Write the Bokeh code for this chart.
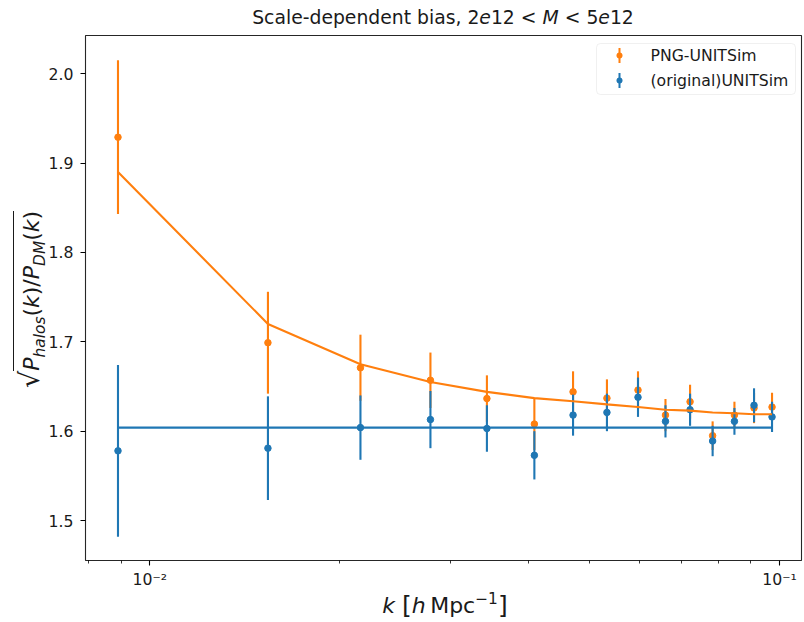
from bokeh.plotting import figure
from bokeh.layouts import column, row
from bokeh.models import (ColumnDataSource, FixedTicker, PrintfTickFormatter, CustomJSTickFormatter,
                          Label, BoxAnnotation, Range1d, Div)
from bokeh.embed import file_html
from bokeh.resources import INLINE

# ---------------- data ----------------
k = [0.0089, 0.0154, 0.0216, 0.0279, 0.0343, 0.0408, 0.0470, 0.0532,
     0.0596, 0.0659, 0.0721, 0.0783, 0.0848, 0.0911, 0.0973]
bias_png = [1.929, 1.699, 1.671, 1.657, 1.6365, 1.608, 1.644, 1.637,
            1.646, 1.618, 1.633, 1.595, 1.618, 1.626, 1.627]
err_png = [0.086, 0.057, 0.037, 0.031, 0.026, 0.029, 0.023, 0.021,
           0.021, 0.018, 0.019, 0.016, 0.015, 0.017, 0.016]
bias_orig = [1.578, 1.581, 1.604, 1.613, 1.603, 1.573, 1.618, 1.621,
             1.638, 1.611, 1.624, 1.589, 1.611, 1.629, 1.616]
err_orig = [0.096, 0.058, 0.036, 0.032, 0.026, 0.027, 0.023, 0.021,
            0.022, 0.018, 0.018, 0.017, 0.015, 0.019, 0.017]
model_png = [1.890, 1.720, 1.675, 1.655, 1.644, 1.637, 1.6335, 1.630,
             1.627, 1.624, 1.623, 1.621, 1.620, 1.619, 1.619]
model_orig = 1.604

series_labels = ["PNG-UNITSim", "(original)UNITSim"]
ytick_vals = [1.5, 1.6, 1.7, 1.8, 1.9, 2.0]
xtick_vals = [0.01, 0.1]
xtick_labels = ["10⁻²", "10⁻¹"]
xminor_vals = [0.008, 0.009, 0.02, 0.03, 0.04, 0.05, 0.06, 0.07, 0.08, 0.09]
X_LIM = (0.007903, 0.10837)
Y_LIM = (1.4553, 2.0428)

TITLE_HTML = "Scale-dependent bias, 2<i>e</i>12 &lt; <i>M</i> &lt; 5<i>e</i>12"
BRACKET = "<span style='font-size:25px;vertical-align:-1px;line-height:0'>{}</span>"
XLABEL_HTML = ("<i>k</i> " + BRACKET.format("[") + "<i>h</i>&thinsp;Mpc"
               "<span style='font-size:15.4px;vertical-align:9px;line-height:0'>&minus;1</span>"
               + BRACKET.format("]"))
SUB = "<span style='font-size:15.4px;vertical-align:-5.5px;line-height:0'><i>{}</i></span>"
YLABEL_HTML = ("<span style='font-size:27px;line-height:0'>&radic;</span>"
               "<span style='border-top:1.2px solid #1a1a1a;padding-top:5px'>"
               "<i>P</i>" + SUB.format("halos") + "(<i>k</i>)/<i>P</i>" + SUB.format("DM") +
               "(<i>k</i>)</span>")

# ---------------- style / layout ----------------
ORANGE = "#ff7f0e"
BLUE = "#1f77b4"
FONT = "DejaVu Sans"
CSS_FONT = "'DejaVu Sans', sans-serif"
TICK_FS = "15.7px"
W, H = 804, 622
TITLE_H = 33
YLAB_W = 45
FRAME_L, FRAME_W, FRAME_H = 85, 716, 526
BORDER_TOP, BORDER_BOTTOM, BORDER_RIGHT = 2, 30, 3
FIG_W = W - YLAB_W
FIG_H = BORDER_TOP + FRAME_H + BORDER_BOTTOM
XLAB_H = H - TITLE_H - FIG_H
FT = TITLE_H + BORDER_TOP           # frame top in page pixels
FB = FT + FRAME_H                   # frame bottom in page pixels
TITLE_BASE = 25
XLAB_BASE = 614
YLAB_START = 388
YLAB_BASE = 40


def sx(cx):
    return cx - FRAME_L


def sy(cy):
    return FB - cy


p = figure(width=FIG_W, height=FIG_H, x_axis_type="log",
           x_range=Range1d(*X_LIM), y_range=Range1d(*Y_LIM),
           output_backend="svg", toolbar_location=None, title=None,
           min_border_left=FRAME_L - YLAB_W, min_border_right=BORDER_RIGHT,
           min_border_top=BORDER_TOP, min_border_bottom=BORDER_BOTTOM, margin=0)
p.background_fill_color = "white"
p.border_fill_color = "white"
p.xgrid.visible = False
p.ygrid.visible = False
p.outline_line_color = "black"
p.outline_line_width = 1.1
p.outline_line_alpha = 0.85

for ax in (p.xaxis[0], p.yaxis[0]):
    ax.axis_line_color = None
    ax.major_tick_in = 0
    ax.major_tick_out = 5
    ax.major_tick_line_width = 1.1
    ax.major_tick_line_color = "black"
    ax.major_label_text_font = FONT
    ax.major_label_text_font_size = TICK_FS
    ax.major_label_text_color = "#1a1a1a"

p.yaxis.ticker = FixedTicker(ticks=ytick_vals)
p.yaxis.formatter = PrintfTickFormatter(format="%.1f")
p.yaxis.minor_tick_line_color = None
p.yaxis.major_label_standoff = 7

p.xaxis.ticker = FixedTicker(ticks=xtick_vals, minor_ticks=xminor_vals)
p.xaxis.formatter = CustomJSTickFormatter(args=dict(vals=xtick_vals, labs=xtick_labels), code="""
for (let i = 0; i < vals.length; i++) {
  if (Math.abs(Math.log10(tick) - Math.log10(vals[i])) < 1e-6) return labs[i];
}
return "";
""")
p.xaxis.minor_tick_in = 0
p.xaxis.minor_tick_out = 3
p.xaxis.minor_tick_line_width = 0.8
p.xaxis.minor_tick_line_color = "black"
p.xaxis.major_label_standoff = 4

# ---------------- data marks ----------------
src_png = ColumnDataSource(dict(k=k, b=bias_png,
                                lo=[b - e for b, e in zip(bias_png, err_png)],
                                hi=[b + e for b, e in zip(bias_png, err_png)]))
src_orig = ColumnDataSource(dict(k=k, b=bias_orig,
                                 lo=[b - e for b, e in zip(bias_orig, err_orig)],
                                 hi=[b + e for b, e in zip(bias_orig, err_orig)]))

p.segment(x0="k", y0="lo", x1="k", y1="hi", source=src_png, line_color=ORANGE, line_width=2.1)
p.scatter("k", "b", source=src_png, size=6.5, fill_color=ORANGE, line_color=ORANGE)
p.segment(x0="k", y0="lo", x1="k", y1="hi", source=src_orig, line_color=BLUE, line_width=2.1)
p.scatter("k", "b", source=src_orig, size=6.5, fill_color=BLUE, line_color=BLUE)
p.line(k, model_png, line_color=ORANGE, line_width=2.1)
p.line([k[0], k[-1]], [model_orig, model_orig], line_color=BLUE, line_width=2.1)


# ---------------- legend (drawn by hand, inside the frame) ----------------
def sbox(l, r, t, b, **kw):
    return BoxAnnotation(left=sx(l), right=sx(r), top=sy(t), bottom=sy(b),
                         left_units="screen", right_units="screen", top_units="screen",
                         bottom_units="screen", **kw)


p.add_layout(sbox(596, 795, 44, 95, fill_color="white", fill_alpha=0.8,
                  line_color="#cccccc", line_width=1, border_radius=4))
for i, (lab, col) in enumerate(zip(series_labels, [ORANGE, BLUE])):
    cy = 56 + 25 * i
    p.add_layout(sbox(618, 620, cy - 7.5, cy + 7.5, fill_color=col, fill_alpha=1, line_color=None))
    p.add_layout(sbox(616, 622, cy - 3, cy + 3, fill_color=col, fill_alpha=1, line_color=None,
                      border_radius=3))
    p.add_layout(Label(x=sx(650), y=sy(cy), x_units="screen", y_units="screen", text=lab,
                       text_font=FONT, text_font_size="15.7px", text_color="#1a1a1a",
                       text_align="left", text_baseline="middle"))


# ---------------- title and axis labels as HTML text around the figure ----------------
def box_html(w, h, inner_style, html):
    return (f"<div style=\"position:relative;width:{w}px;height:{h}px;overflow:visible;"
            f"font-family:{CSS_FONT};color:#1a1a1a\">"
            f"<div style=\"position:absolute;white-space:nowrap;{inner_style}\">{html}</div></div>")


# baseline sits 0.846 em below the top of a line box whose line-height equals the font size
title_div = Div(width=W, height=TITLE_H, margin=0, text=box_html(
    W, TITLE_H, f"left:{FRAME_L}px;width:{FRAME_W}px;top:{TITLE_BASE - 0.846 * 18.8:.1f}px;"
                "text-align:center;font-size:18.8px;line-height:18.8px", TITLE_HTML))

ylab_div = Div(width=YLAB_W, height=FIG_H, margin=0, text=box_html(
    YLAB_W, FIG_H, f"left:{YLAB_BASE - 0.846 * 22:.1f}px;top:{YLAB_START - TITLE_H}px;"
                   "transform:rotate(-90deg);transform-origin:left top;"
                   "font-size:22px;line-height:22px", YLABEL_HTML))

xlab_div = Div(width=W, height=XLAB_H, margin=0, text=box_html(
    W, XLAB_H, f"left:{FRAME_L}px;width:720px;top:{XLAB_BASE - (TITLE_H + FIG_H) - 0.846 * 22:.1f}px;"
               "text-align:center;font-size:22px;line-height:22px", XLABEL_HTML))

layout = column(title_div, row(ylab_div, p, margin=0, spacing=0), xlab_div, margin=0, spacing=0)

open("out.html", "w").write(file_html(layout, INLINE))
